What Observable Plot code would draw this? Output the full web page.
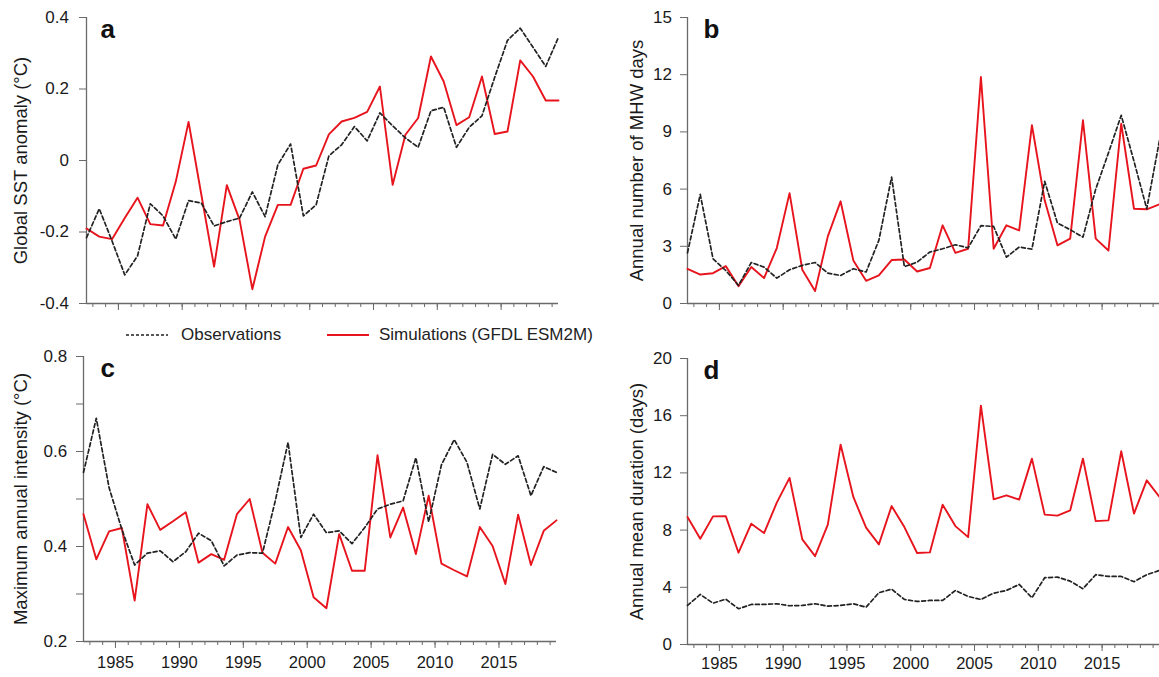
<!DOCTYPE html>
<html><head><meta charset="utf-8">
<script src="https://cdn.jsdelivr.net/npm/d3@7"></script>
<script src="https://cdn.jsdelivr.net/npm/@observablehq/plot@0.6"></script>
<style>
body{margin:0;background:#fff;font-family:"Liberation Sans",Arial,Helvetica,sans-serif;}
#root{position:relative;width:1159px;height:677px;overflow:hidden;background:#fff;}
.panel{position:absolute;}
.panel svg{overflow:visible;}
.leg{position:absolute;top:324px;font-size:17px;color:#222;line-height:22px;white-space:nowrap;}
.leg svg{position:absolute;}
</style></head><body><div id="root"></div>
<script>
const years = [1982,1983,1984,1985,1986,1987,1988,1989,1990,1991,1992,1993,1994,1995,1996,1997,1998,1999,2000,2001,2002,2003,2004,2005,2006,2007,2008,2009,2010,2011,2012,2013,2014,2015,2016,2017,2018,2019];
const seriesNames = ["Observations", "Simulations (GFDL ESM2M)"];

// a: Global SST anomaly (°C)
const sstObs = [-0.216,-0.135,-0.225,-0.32,-0.267,-0.121,-0.155,-0.22,-0.112,-0.119,-0.183,-0.171,-0.161,-0.088,-0.157,-0.012,0.046,-0.155,-0.124,0.013,0.044,0.095,0.055,0.133,0.097,0.063,0.037,0.139,0.149,0.037,0.093,0.125,0.233,0.336,0.37,0.317,0.263,0.345];
const sstSim = [-0.19,-0.213,-0.22,-0.161,-0.104,-0.178,-0.182,-0.059,0.108,-0.095,-0.297,-0.069,-0.166,-0.36,-0.213,-0.124,-0.124,-0.023,-0.014,0.073,0.109,0.119,0.136,0.207,-0.068,0.072,0.119,0.291,0.221,0.099,0.121,0.235,0.074,0.081,0.28,0.235,0.168,0.168];
// b: Annual number of MHW days
const daysObs = [2.66,5.72,2.35,1.73,0.95,2.15,1.91,1.33,1.77,2.0,2.15,1.59,1.47,1.82,1.65,3.31,6.63,1.93,2.17,2.70,2.87,3.08,2.92,4.08,4.04,2.43,2.96,2.85,6.41,4.22,3.87,3.48,6.0,7.9,9.87,7.46,4.97,8.56];
const daysSim = [1.82,1.52,1.59,1.96,0.91,1.91,1.33,2.91,5.79,1.77,0.65,3.52,5.36,2.26,1.19,1.47,2.28,2.31,1.68,1.86,4.10,2.66,2.87,11.88,2.87,4.10,3.83,9.35,5.41,3.05,3.40,9.61,3.40,2.78,9.43,4.97,4.94,5.2];
// c: Maximum annual intensity (°C)
const intObs = [0.556,0.670,0.524,0.436,0.361,0.386,0.391,0.368,0.389,0.428,0.412,0.359,0.382,0.387,0.386,0.496,0.619,0.419,0.468,0.429,0.433,0.406,0.440,0.479,0.489,0.496,0.587,0.452,0.572,0.625,0.577,0.479,0.594,0.573,0.591,0.507,0.568,0.556];
const intSim = [0.468,0.373,0.432,0.439,0.286,0.489,0.435,0.453,0.472,0.366,0.384,0.372,0.468,0.500,0.387,0.364,0.441,0.392,0.293,0.270,0.426,0.349,0.349,0.592,0.419,0.482,0.384,0.507,0.364,0.350,0.337,0.441,0.401,0.321,0.467,0.361,0.433,0.455];
// d: Annual mean duration (days)
const durObs = [2.73,3.50,2.89,3.17,2.50,2.80,2.80,2.85,2.71,2.73,2.85,2.68,2.73,2.85,2.61,3.62,3.87,3.15,3.01,3.08,3.08,3.78,3.36,3.15,3.59,3.78,4.2,3.27,4.67,4.71,4.43,3.90,4.88,4.76,4.76,4.39,4.88,5.18];
const durSim = [8.91,7.40,8.96,8.98,6.42,8.45,7.79,9.92,11.65,7.35,6.18,8.38,13.98,10.32,8.17,7.0,9.68,8.21,6.40,6.44,9.78,8.28,7.51,16.7,10.15,10.43,10.13,13.0,9.08,9.01,9.38,13.0,8.63,8.68,13.51,9.15,11.48,10.32];

const majorXTicks = [1985,1990,1995,2000,2005,2010,2015];
const minorXTicks = years.slice(1);

const sstTicks = [-0.4,-0.2,0,0.2,0.4];
const daysTicks = [0,3,6,9,12,15];
const intTicks = [0.2,0.3,0.4,0.5,0.6,0.7,0.8];
const intLabelTicks = [0.2,0.4,0.6,0.8];
const durTicks = [0,4,8,12,16,20];

const RED = "#e8141d";
const OBS = "#222";
const AXIS = "#6a6a6a";
const FONT = '"Liberation Sans", Arial, Helvetica, sans-serif';

function panel(o) {
  const data = years.map((y, i) => ({year: y, mid: y + 0.5, obs: o.obs[i], sim: o.sim[i]}));
  const xDomain = [years[0] + 0.5, years[years.length - 1] + 0.5];
  const labelSet = o.labelTicks || o.yTicks;
  return Plot.plot({
    width: o.width, height: o.height,
    marginLeft: o.ml, marginRight: o.mr, marginTop: o.mt, marginBottom: o.mb,
    style: {fontFamily: FONT, fontSize: "17px", color: "#222", background: "transparent", overflow: "visible"},
    x: {domain: xDomain, axis: null},
    y: {domain: o.yDomain, axis: null},
    marks: [
      Plot.axisX(minorXTicks, {tickSize: 4, stroke: AXIS, tickFormat: () => "", label: null}),
      Plot.axisX(majorXTicks, {tickSize: 7, tickPadding: o.xp, stroke: AXIS, fill: "#1a1a1a", fontSize: 16.5,
        tickFormat: o.xLabels ? (d => String(d)) : (() => ""), label: null}),
      Plot.axisY(o.yTicks, {tickSize: 7, tickPadding: o.tp, stroke: AXIS, fill: "#1a1a1a", fontSize: 17,
        tickFormat: d => labelSet.includes(d) ? String(d) : "", label: null}),
      Plot.axisY([], {label: o.yLabel, labelAnchor: "center", labelArrow: "none", labelOffset: o.lo,
        fontSize: 18.5, fill: "#1a1a1a"}),
      Plot.ruleY([o.yDomain[0]], {stroke: AXIS, strokeWidth: 1.3}),
      Plot.ruleX([xDomain[0]], {stroke: AXIS, strokeWidth: 1.3}),
      Plot.line(data, {x: "mid", y: "sim", stroke: RED, strokeWidth: 1.9}),
      Plot.line(data, {x: "mid", y: "obs", stroke: OBS, strokeWidth: 1.7, strokeDasharray: "4,2.6"}),
      Plot.text([o.letter], {frameAnchor: "top-left", text: d => d, dx: o.ldx, dy: 2, textAnchor: "start",
        lineAnchor: "top", fontWeight: "bold", fontSize: 26, fontFamily: '"Liberation Sans Narrow", "Liberation Sans", Arial, sans-serif', fill: "#111"})
    ]
  });
}

const root = document.getElementById("root");
function place(el, left, top) {
  const d = document.createElement("div");
  d.className = "panel";
  d.style.left = left + "px"; d.style.top = top + "px";
  d.appendChild(el);
  root.appendChild(d);
}

place(panel({obs: sstObs, sim: sstSim, yDomain: [-0.4, 0.4], yTicks: sstTicks, yLabel: "Global SST anomaly (°C)",
  letter: "a", xLabels: false, width: 580, height: 320, ml: 86, mr: 22, mt: 17, mb: 17, tp: 10.5, xp: 7, lo: 73, ldx: 14}), 0, 0);
place(panel({obs: daysObs, sim: daysSim, yDomain: [0, 15], yTicks: daysTicks, yLabel: "Annual number of MHW days",
  letter: "b", xLabels: false, width: 579, height: 320, ml: 107, mr: 0, mt: 17, mb: 17, tp: 8.5, xp: 7, lo: 58, ldx: 16}), 580, 0);
place(panel({obs: intObs, sim: intSim, yDomain: [0.2, 0.8], yTicks: intTicks, labelTicks: intLabelTicks, yLabel: "Maximum annual intensity (°C)",
  letter: "c", xLabels: true, width: 580, height: 339, ml: 83, mr: 24, mt: 18, mb: 36, tp: 9.3, xp: 7.5, lo: 70, ldx: 17}), 0, 338);
place(panel({obs: durObs, sim: durSim, yDomain: [0, 20], yTicks: durTicks, yLabel: "Annual mean duration (days)",
  letter: "d", xLabels: true, width: 579, height: 339, ml: 107, mr: 0, mt: 20, mb: 33, tp: 8.5, xp: 6, lo: 58, ldx: 16}), 580, 338);

// legend
function legendItem(left, name, color, dash) {
  const d = document.createElement("div");
  d.className = "leg";
  d.style.left = left + "px";
  const ns = "http://www.w3.org/2000/svg";
  const s = document.createElementNS(ns, "svg");
  s.setAttribute("width", 42); s.setAttribute("height", 22);
  s.style.left = "0px"; s.style.top = "0px";
  const l = document.createElementNS(ns, "line");
  l.setAttribute("x1", 0); l.setAttribute("x2", 42); l.setAttribute("y1", 11); l.setAttribute("y2", 11);
  l.setAttribute("stroke", color); l.setAttribute("stroke-width", dash ? 1.6 : 1.9);
  if (dash) l.setAttribute("stroke-dasharray", "3,2");
  s.appendChild(l);
  d.appendChild(s);
  const t = document.createElement("span");
  t.textContent = name;
  t.style.marginLeft = (dash ? 55 : 52) + "px";
  d.appendChild(t);
  root.appendChild(d);
}
legendItem(126, seriesNames[0], OBS, true);
legendItem(327, seriesNames[1], RED, false);
</script>
</body></html>
